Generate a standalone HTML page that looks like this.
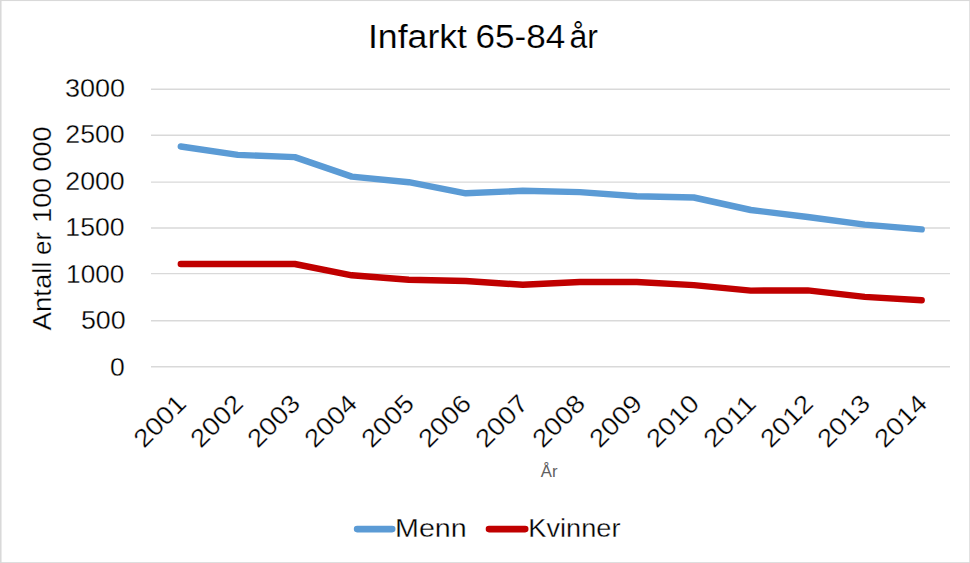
<!DOCTYPE html>
<html lang="no">
<head>
<meta charset="utf-8">
<title>Infarkt 65-84 år</title>
<style>
  html, body { margin: 0; padding: 0; background: #ffffff; }
  body { width: 970px; height: 563px; overflow: hidden; font-family: "Liberation Sans", sans-serif; }
  svg { display: block; }
  text { font-family: "Liberation Sans", sans-serif; fill: #000000; stroke: #ffffff; stroke-width: 0.3px; }
  .title text { stroke-width: 0.15px; }
  .grid line { stroke: #d9d9d9; stroke-width: 1.4; }
  .series { fill: none; stroke-width: 6.4; stroke-linecap: round; stroke-linejoin: round; }
</style>
</head>
<body>
<svg width="970" height="563" viewBox="0 0 970 563">
  <rect x="0" y="0" width="970" height="563" fill="#ffffff"/>
  <!-- chart border -->
  <g fill="#d9d9d9">
    <rect x="0" y="0" width="1.55" height="563"/>
    <rect x="0" y="0" width="970" height="1.05"/>
    <rect x="969.25" y="0" width="0.75" height="563"/>
    <rect x="0" y="562.15" width="970" height="0.85"/>
  </g>
  <!-- title -->
  <g class="title">
    <text x="367.96" y="47.6" font-size="32.3" textLength="99.02" lengthAdjust="spacingAndGlyphs">Infarkt</text>
    <text x="475.63" y="47.6" font-size="32.3" textLength="89.64" lengthAdjust="spacingAndGlyphs">65-84</text>
    <text x="569.58" y="47.6" font-size="32.3" textLength="28.41" lengthAdjust="spacingAndGlyphs">år</text>
  </g>
  <!-- horizontal gridlines -->
  <g class="grid">
    <line x1="151" y1="89.3" x2="950" y2="89.3"/>
    <line x1="151" y1="135.2" x2="950" y2="135.2"/>
    <line x1="151" y1="182.1" x2="950" y2="182.1"/>
    <line x1="151" y1="228.0" x2="950" y2="228.0"/>
    <line x1="151" y1="273.6" x2="950" y2="273.6"/>
    <line x1="151" y1="320.8" x2="950" y2="320.8"/>
    <line x1="151" y1="366.7" x2="950" y2="366.7"/>
  </g>
  <!-- value axis labels -->
  <g class="ylabels">
    <text x="64.93" y="97.0" font-size="25.2" textLength="60.13" lengthAdjust="spacingAndGlyphs">3000</text>
    <text x="65.27" y="143.1" font-size="25.2" textLength="59.48" lengthAdjust="spacingAndGlyphs">2500</text>
    <text x="65.27" y="190.1" font-size="25.2" textLength="59.48" lengthAdjust="spacingAndGlyphs">2000</text>
    <text x="65.39" y="236.0" font-size="25.2" textLength="59.23" lengthAdjust="spacingAndGlyphs">1500</text>
    <text x="66.11" y="282.7" font-size="25.2" textLength="58.2" lengthAdjust="spacingAndGlyphs">1000</text>
    <text x="80.91" y="328.9" font-size="25.2" textLength="44.77" lengthAdjust="spacingAndGlyphs">500</text>
    <text x="110.06" y="375.8" font-size="25.2" textLength="14.77" lengthAdjust="spacingAndGlyphs">0</text>
  </g>
  <!-- value axis title (rotated) -->
  <g class="ytitle">
    <text transform="translate(50.8 329.8) rotate(-90)" x="-0.74" y="0" font-size="25.2" textLength="69.17" lengthAdjust="spacingAndGlyphs">Antall</text>
    <text transform="translate(50.8 254.0) rotate(-90)" x="-0.95" y="0" font-size="25.2" textLength="23.14" lengthAdjust="spacingAndGlyphs">er</text>
    <text transform="translate(50.8 220.9) rotate(-90)" x="-1.9" y="0" font-size="25.2" textLength="44.86" lengthAdjust="spacingAndGlyphs">100</text>
    <text transform="translate(50.8 170.5) rotate(-90)" x="-0.93" y="0" font-size="25.2" textLength="44.9" lengthAdjust="spacingAndGlyphs">000</text>
  </g>
  <!-- data series -->
  <polyline class="series" stroke="#5b9bd5" points="180.8,146.5 237.8,154.9 294.8,157.1 351.8,176.6 408.8,182.2 465.8,193.3 522.8,190.8 579.8,192.1 636.8,196.3 693.8,197.5 750.8,210.0 807.7,217.0 864.7,224.6 921.7,229.4"/>
  <polyline class="series" stroke="#c00000" points="180.8,264.0 237.8,264.0 294.8,264.0 351.8,275.3 408.8,279.7 465.8,281.0 522.8,284.8 579.8,282.0 636.8,282.0 693.8,285.1 750.8,290.6 807.7,290.4 864.7,296.9 921.7,300.3"/>
  <!-- category axis labels (rotated -45) -->
  <g class="xlabels">
    <text transform="translate(187.8 405.1) rotate(-45)" font-size="25.2" text-anchor="end" textLength="62.0" lengthAdjust="spacingAndGlyphs">2001</text>
    <text transform="translate(244.7 405.1) rotate(-45)" font-size="25.2" text-anchor="end" textLength="62.0" lengthAdjust="spacingAndGlyphs">2002</text>
    <text transform="translate(301.7 405.1) rotate(-45)" font-size="25.2" text-anchor="end" textLength="62.0" lengthAdjust="spacingAndGlyphs">2003</text>
    <text transform="translate(358.7 405.1) rotate(-45)" font-size="25.2" text-anchor="end" textLength="62.0" lengthAdjust="spacingAndGlyphs">2004</text>
    <text transform="translate(415.7 405.1) rotate(-45)" font-size="25.2" text-anchor="end" textLength="62.0" lengthAdjust="spacingAndGlyphs">2005</text>
    <text transform="translate(472.7 405.1) rotate(-45)" font-size="25.2" text-anchor="end" textLength="62.0" lengthAdjust="spacingAndGlyphs">2006</text>
    <text transform="translate(529.7 405.1) rotate(-45)" font-size="25.2" text-anchor="end" textLength="62.0" lengthAdjust="spacingAndGlyphs">2007</text>
    <text transform="translate(586.7 405.1) rotate(-45)" font-size="25.2" text-anchor="end" textLength="62.0" lengthAdjust="spacingAndGlyphs">2008</text>
    <text transform="translate(643.7 405.1) rotate(-45)" font-size="25.2" text-anchor="end" textLength="62.0" lengthAdjust="spacingAndGlyphs">2009</text>
    <text transform="translate(700.7 405.1) rotate(-45)" font-size="25.2" text-anchor="end" textLength="62.0" lengthAdjust="spacingAndGlyphs">2010</text>
    <text transform="translate(757.6 405.1) rotate(-45)" font-size="25.2" text-anchor="end" textLength="62.0" lengthAdjust="spacingAndGlyphs">2011</text>
    <text transform="translate(814.6 405.1) rotate(-45)" font-size="25.2" text-anchor="end" textLength="62.0" lengthAdjust="spacingAndGlyphs">2012</text>
    <text transform="translate(871.6 405.1) rotate(-45)" font-size="25.2" text-anchor="end" textLength="62.0" lengthAdjust="spacingAndGlyphs">2013</text>
    <text transform="translate(928.6 405.1) rotate(-45)" font-size="25.2" text-anchor="end" textLength="62.0" lengthAdjust="spacingAndGlyphs">2014</text>
  </g>
  <!-- category axis title -->
  <text x="540.85" y="476.9" font-size="16.5" style="fill:#5f5f5f;stroke:none" textLength="16.73" lengthAdjust="spacingAndGlyphs">År</text>
  <!-- legend -->
  <line x1="357.1" y1="529.1" x2="392.2" y2="529.1" stroke="#5b9bd5" stroke-width="6.6" stroke-linecap="round"/>
  <line x1="489.0" y1="529.1" x2="525.2" y2="529.1" stroke="#c00000" stroke-width="6.6" stroke-linecap="round"/>
  <text x="395.02" y="536.5" font-size="25" textLength="71.76" lengthAdjust="spacingAndGlyphs">Menn</text>
  <text x="528.36" y="536.5" font-size="25" textLength="92.08" lengthAdjust="spacingAndGlyphs">Kvinner</text>
</svg>
</body>
</html>
